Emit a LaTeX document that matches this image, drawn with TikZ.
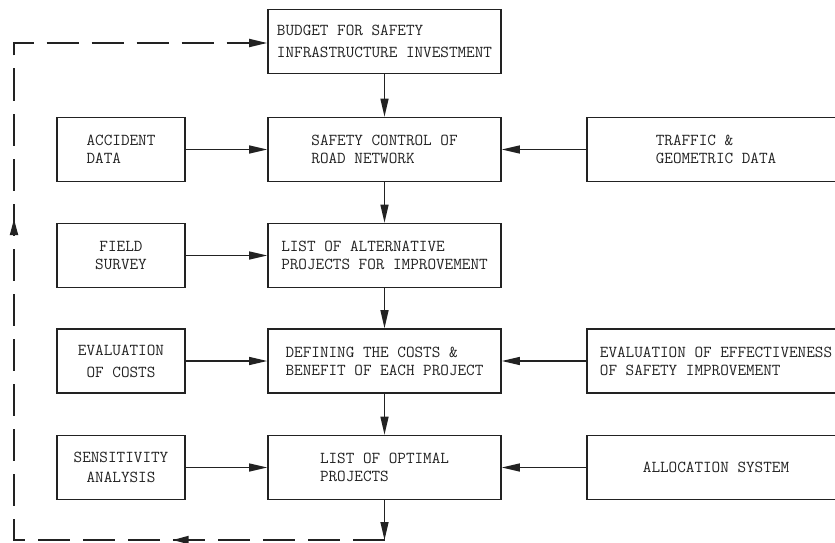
\documentclass[tikz,border=0pt]{standalone}
\usepackage{fontspec}
\usetikzlibrary{arrows.meta,decorations.markings}
\definecolor{encre}{HTML}{222222}
\begin{document}
\begin{tikzpicture}[x=1pt,y=-1pt]
\tikzstyle{bloc} = [draw=encre, text=encre, line width=1.6pt, minimum height=64pt, inner sep=0pt, align=left, font=\ttfamily\fontsize{16.7}{18}\selectfont];
\tikzstyle{fleche} = [draw=encre, line width=1.3pt, -{Triangle[length=18pt,width=8pt]}];
\tikzstyle{retour} = [draw=encre, line width=1.8pt, dash pattern=on 32pt off 13pt, -{Triangle[length=18pt,width=8pt]},
  decoration={markings,
    mark=at position 0.189 with {\arrow{Triangle[length=16pt,width=8pt]}},
    mark=at position 0.617 with {\arrow{Triangle[length=16pt,width=8pt]}}},
  postaction={decorate}];
\useasboundingbox (0,0) rectangle (835,543);

\node[bloc, minimum width=233pt] (budget) at (384.5, 41.5) {BUDGET FOR SAFETY\\[4pt]INFRASTRUCTURE INVESTMENT};
\node[bloc, minimum width=233pt] (controle) at (384.5, 149.5) {SAFETY CONTROL OF\\ROAD NETWORK};
\node[bloc, minimum width=233pt] (variantes) at (384.5, 255.5) {LIST OF ALTERNATIVE\\PROJECTS FOR IMPROVEMENT};
\node[bloc, minimum width=233pt] (couts) at (384.5, 361) {DEFINING THE COSTS \&\\BENEFIT OF EACH PROJECT};
\node[bloc, minimum width=233pt] (optimal) at (384.5, 467.5) {LIST OF OPTIMAL\\PROJECTS};

\node[bloc, minimum width=128pt] (accident) at (121, 149.5) {ACCIDENT\\DATA};
\node[bloc, minimum width=128pt, align=center] (terrain) at (121, 255.5) {FIELD\\SURVEY};
\node[bloc, minimum width=128pt, align=center] (evalcout) at (121, 361) {EVALUATION\\[4pt]OF COSTS};
\node[bloc, minimum width=128pt, align=center] (sensib) at (121, 467.5) {SENSITIVITY\\[2pt]ANALYSIS};

\node[bloc, minimum width=258pt] (trafic) at (716, 149.5) {TRAFFIC \&\\GEOMETRIC DATA};
\node[bloc, minimum width=258pt] (efficacite) at (716, 361) {EVALUATION OF EFFECTIVENESS\\OF SAFETY IMPROVEMENT};
\node[bloc, minimum width=258pt] (allocation) at (716, 467.5) {ALLOCATION SYSTEM};

\draw[fleche] (budget) -- (controle);
\draw[fleche] (controle) -- (variantes);
\draw[fleche] (variantes) -- (couts);
\draw[fleche] (couts) -- (optimal);

\draw[fleche] (accident) -- (controle);
\draw[fleche] (terrain) -- (variantes);
\draw[fleche] (evalcout) -- (couts);
\draw[fleche] (sensib) -- (optimal);

\draw[fleche] (trafic) -- (controle);
\draw[fleche] (efficacite) -- (couts);
\draw[fleche] (allocation) -- (optimal);

% boucle de retour
\coordinate (fin) at (384.5, 540);
\coordinate (coinbas) at (14, 540);
\coordinate (coinhaut) at (14, 43);
\draw[fleche] (optimal) -- (fin);
\draw[retour] (fin) -- (coinbas) -- (coinhaut) -- (coinhaut -| budget.west);
\end{tikzpicture}
\end{document}
